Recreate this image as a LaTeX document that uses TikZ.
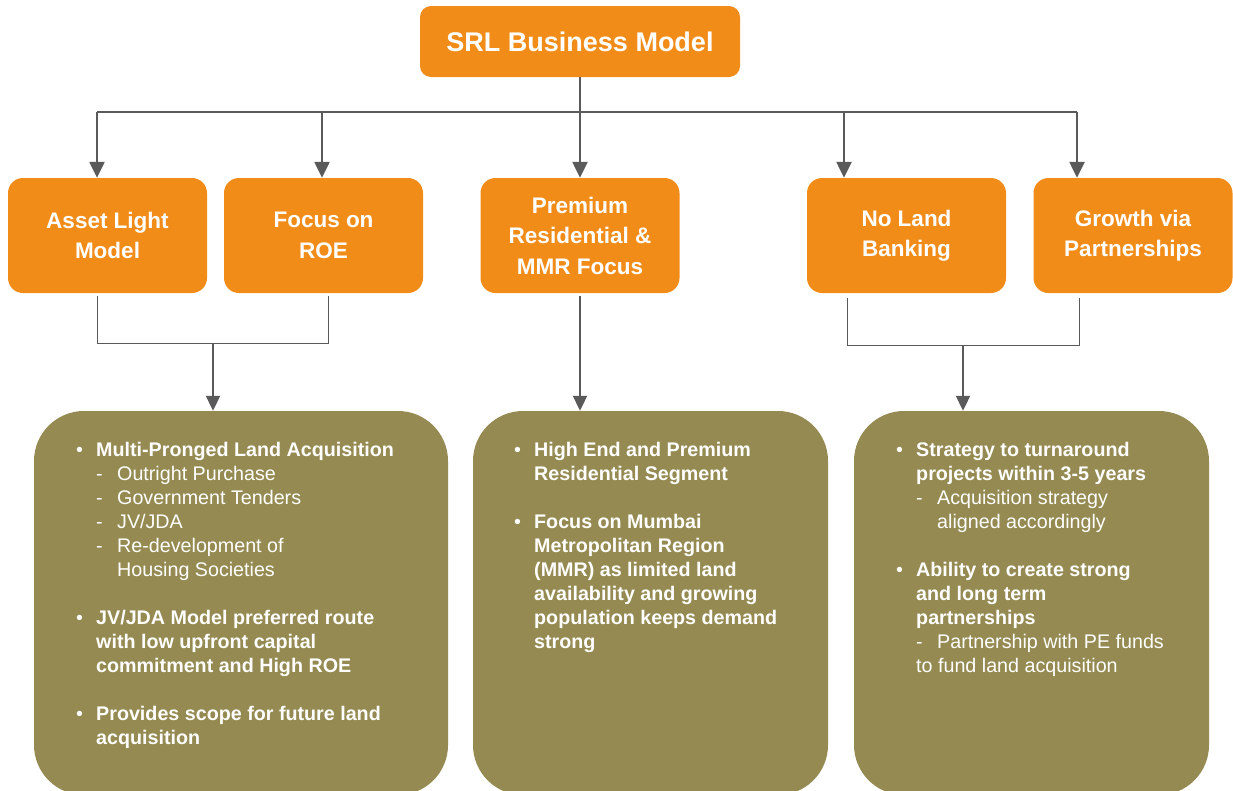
\documentclass[tikz,border=0pt]{standalone}
\usepackage{fontspec}
\setmainfont{Liberation Sans}
\usetikzlibrary{arrows.meta}
\definecolor{orng}{HTML}{F28C19}
\definecolor{olive}{HTML}{958A52}
\definecolor{lgray}{HTML}{5A5A5A}
\tikzset{
  headbox/.style={fill=orng, draw=none, rounded corners=15pt, text=white,
    font=\bfseries\fontsize{22.5}{30.5}\selectfont, align=center, inner sep=0pt,
    minimum width=199pt, minimum height=115pt},
  titlebox/.style={fill=orng, draw=none, rounded corners=11pt, text=white,
    font=\bfseries\fontsize{27}{32}\selectfont, inner sep=0pt,
    minimum width=320pt, minimum height=71pt},
  infobox/.style={fill=olive, draw=none, rounded corners=50pt, inner sep=0pt,
    minimum height=384pt},
  infotext/.style={text=white, font=\fontsize{19.7}{24}\selectfont, align=left,
    inner sep=0pt, anchor=north west},
  busline/.style={draw=lgray, line width=1.7pt},
  arr/.style={draw=lgray, line width=2.4pt, -{Triangle[width=15pt,length=16pt]}},
  brk/.style={draw=lgray, line width=1pt},
  arrb/.style={draw=lgray, line width=2pt, -{Triangle[width=14pt,length=15pt]}},
}
\newcommand\bitem[1]{\makebox[20pt][l]{\textbullet}\textbf{#1}}
\newcommand\bcont[1]{\hspace*{20pt}\textbf{#1}}
\newcommand\sitem[1]{\hspace*{20pt}\makebox[21pt][l]{-}#1}
\newcommand\scont[1]{\hspace*{41pt}#1}
\begin{document}
\begin{tikzpicture}[x=1pt, y=-1pt]
\useasboundingbox (0,0) rectangle (1233,790);
\clip (0,0) rectangle (1233,790);

% top
\node[titlebox] (T) at (580,41.5) {SRL Business Model};

% second row
\node[headbox] (A) at (107.5,235.5) {Asset Light\\Model};
\node[headbox] (B) at (323.5,235.5) {Focus on\\ROE};
\node[headbox] (C) at (580,235.5) {Premium\\Residential \&\\MMR Focus};
\node[headbox] (D) at (906.5,235.5) {No Land\\Banking};
\node[headbox] (E) at (1133,235.5) {Growth via\\Partnerships};
% bottom boxes
\node[infobox, minimum width=414pt] (L) at (241,603) {};
\node[infobox, minimum width=355pt] (M) at (650.5,603) {};
\node[infobox, minimum width=355pt] (R) at (1031.5,603) {};

% bus and arrows
\coordinate (a1) at (97,112);
\coordinate (a2) at (322,112);
\coordinate (a4) at (844,112);
\coordinate (a5) at (1077,112);
\draw[busline] (a1) -- (a5);
\draw[arr] (a1) -- (a1 |- A.north);
\draw[arr] (a2) -- (a2 |- B.north);
\draw[arr] (a4) -- (a4 |- D.north);
\draw[arr] (a5) -- (a5 |- E.north);
\draw[arr] (T.south) -- (T.south |- C.north);

% left bracket
\coordinate (l1) at (97,296);
\coordinate (l2) at (328,296);
\coordinate (lm) at (213,343);
\draw[brk] (l1) -- (l1 |- lm) -- (l2 |- lm) -- (l2);
\draw[arrb] (lm) -- (lm |- L.north);

% middle
\coordinate (m1) at (580,296);
\draw[arrb] (m1) -- (m1 |- M.north);

% right bracket
\coordinate (r1) at (847,298);
\coordinate (r2) at (1079,298);
\coordinate (rm) at (963,345);
\draw[brk] (r1) -- (r1 |- rm) -- (r2 |- rm) -- (r2);
\draw[arrb] (rm) -- (rm |- R.north);

% texts
\node[infotext] (Lt) at (76,442) {%
\bitem{Multi-Pronged Land Acquisition}\\
\sitem{Outright Purchase}\\
\sitem{Government Tenders}\\
\sitem{JV/JDA}\\
\sitem{Re-development of}\\
\scont{Housing Societies}\\[24pt]
\bitem{JV/JDA Model preferred route}\\
\bcont{with low upfront capital}\\
\bcont{commitment and High ROE}\\[24pt]
\bitem{Provides scope for future land}\\
\bcont{acquisition}};

\node[infotext] (Mt) at (514,442) {%
\bitem{High End and Premium}\\
\bcont{Residential Segment}\\[24pt]
\bitem{Focus on Mumbai}\\
\bcont{Metropolitan Region}\\
\bcont{(MMR) as limited land}\\
\bcont{availability and growing}\\
\bcont{population keeps demand}\\
\bcont{strong}};

\node[infotext] (Rt) at (896,442) {%
\bitem{Strategy to turnaround}\\
\bcont{projects within 3-5 years}\\
\sitem{Acquisition strategy}\\
\scont{aligned accordingly}\\[24pt]
\bitem{Ability to create strong}\\
\bcont{and long term}\\
\bcont{partnerships}\\
\sitem{Partnership with PE funds}\\
\hspace*{20pt}to fund land acquisition};
\end{tikzpicture}
\end{document}
